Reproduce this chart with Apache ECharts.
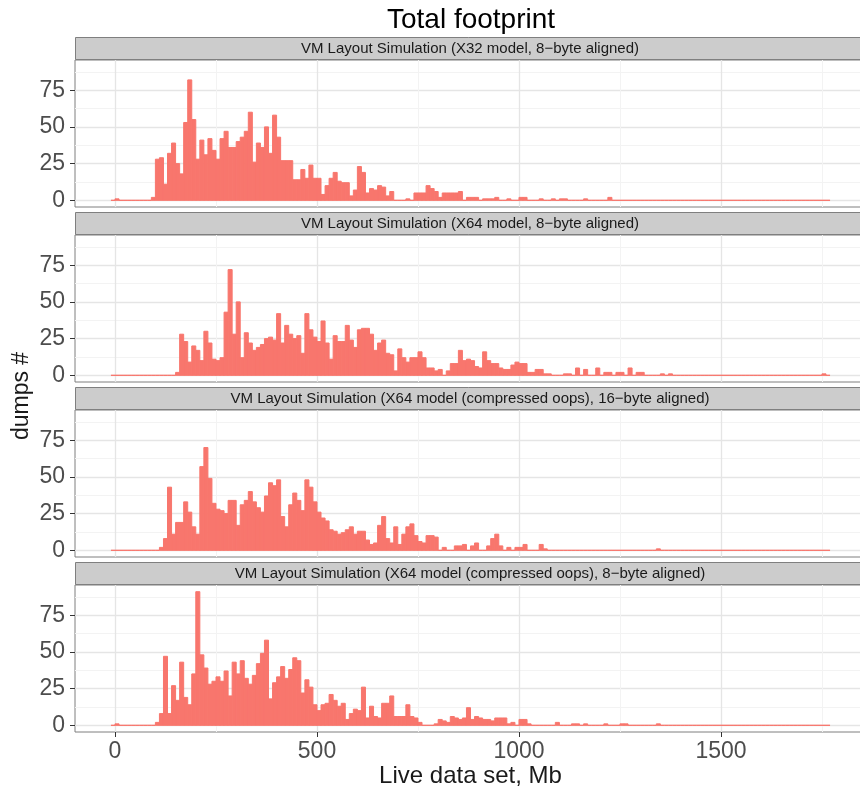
<!DOCTYPE html>
<html>
<head>
<meta charset="utf-8">
<title>Total footprint</title>
<script src="https://cdn.jsdelivr.net/npm/echarts@6/dist/echarts.min.js"></script>
<style>
  html, body { margin: 0; padding: 0; background: #fff; }
  #chart { width: 860px; height: 790px; }
</style>
</head>
<body>
<div id="chart"></div>
<script>
// histogram bins are 10 Mb wide, the first one starts at -10
const BIN_WIDTH = 10;
const FIRST_BIN = -10;
const BIN_COUNT = 178;

const facetTitles = [
  'VM Layout Simulation (X32 model, 8\u2212byte aligned)',
  'VM Layout Simulation (X64 model, 8\u2212byte aligned)',
  'VM Layout Simulation (X64 model (compressed oops), 16\u2212byte aligned)',
  'VM Layout Simulation (X64 model (compressed oops), 8\u2212byte aligned)'
];

// counts per bin, first value is the [-10, 0) bin, then one row per 100 Mb
const countsX32 = [0,
  1, 0, 0, 0, 0, 0, 0, 0, 0, 2,
  28, 29, 11, 32, 39, 25, 18, 53, 82, 55,
  28, 41, 31, 42, 34, 28, 42, 47, 36, 36,
  40, 43, 47, 60, 26, 39, 36, 50, 32, 58,
  43, 27, 27, 27, 14, 14, 21, 15, 24, 15,
  15, 4, 10, 15, 19, 13, 12, 12, 3, 7,
  23, 19, 5, 8, 7, 10, 9, 3, 6, 0,
  0, 0, 1, 0, 5, 5, 5, 10, 8, 6,
  2, 5, 5, 5, 5, 6, 0, 2, 2, 2,
  0, 1, 1, 1, 2, 0, 0, 1, 0, 0,
  2, 2, 0, 0, 0, 1, 0, 0, 1, 0,
  1, 1, 0, 0, 0, 0, 1, 0, 0, 0,
  0, 0, 2, 0, 0, 0, 0, 0, 0, 0,
  0, 0, 0, 0, 0, 0, 0, 0, 0, 0,
  0, 0, 0, 0, 0, 0, 0, 0, 0, 0,
  0, 0, 0, 0, 0, 0, 0, 0, 0, 0,
  0, 0, 0, 0, 0, 0, 0, 0, 0, 0,
  0, 0, 0, 0, 0, 0, 0
];

const countsX64 = [0,
  0, 0, 0, 0, 0, 0, 0, 0, 0, 0,
  0, 0, 0, 0, 0, 2, 28, 23, 9, 20,
  17, 10, 30, 22, 11, 10, 12, 43, 72, 28,
  50, 12, 29, 22, 17, 19, 21, 25, 26, 24,
  42, 22, 34, 28, 25, 27, 15, 42, 31, 26,
  23, 37, 22, 11, 27, 23, 23, 34, 24, 19,
  31, 32, 32, 28, 17, 22, 24, 15, 14, 3,
  18, 12, 9, 12, 12, 16, 12, 5, 5, 3,
  4, 0, 3, 8, 8, 17, 10, 11, 10, 6,
  5, 16, 10, 8, 8, 5, 4, 4, 7, 9,
  8, 8, 2, 2, 4, 4, 1, 1, 0, 0,
  0, 1, 1, 0, 5, 0, 4, 0, 0, 5,
  0, 2, 2, 0, 2, 2, 0, 5, 0, 2,
  2, 0, 0, 0, 0, 1, 0, 1, 0, 0,
  0, 0, 0, 0, 0, 0, 0, 0, 0, 0,
  0, 0, 0, 0, 0, 0, 0, 0, 0, 0,
  0, 0, 0, 0, 0, 0, 0, 0, 0, 0,
  0, 0, 0, 0, 0, 1, 0
];

const countsX64Oops16 = [0,
  0, 0, 0, 0, 0, 0, 0, 0, 0, 0,
  0, 2, 8, 43, 11, 19, 19, 33, 26, 16,
  11, 57, 70, 49, 32, 28, 27, 25, 34, 34,
  17, 31, 34, 40, 33, 29, 26, 37, 46, 44,
  48, 23, 16, 31, 39, 34, 27, 48, 43, 33,
  26, 22, 20, 14, 13, 11, 12, 14, 16, 11,
  13, 13, 7, 4, 5, 17, 23, 8, 5, 16,
  4, 11, 16, 18, 10, 6, 5, 10, 10, 9,
  0, 2, 0, 0, 3, 3, 4, 0, 3, 5,
  0, 0, 3, 8, 11, 3, 0, 2, 0, 2,
  2, 4, 0, 0, 0, 4, 1, 0, 0, 0,
  0, 0, 0, 0, 0, 0, 0, 0, 0, 0,
  0, 0, 0, 0, 0, 0, 0, 0, 0, 0,
  0, 0, 0, 0, 1, 0, 0, 0, 0, 0,
  0, 0, 0, 0, 0, 0, 0, 0, 0, 0,
  0, 0, 0, 0, 0, 0, 0, 0, 0, 0,
  0, 0, 0, 0, 0, 0, 0, 0, 0, 0,
  0, 0, 0, 0, 0, 0, 0
];

const countsX64Oops8 = [0,
  1, 0, 0, 0, 0, 0, 0, 0, 0, 0,
  2, 8, 47, 8, 27, 17, 43, 19, 14, 35,
  91, 48, 39, 28, 30, 33, 30, 37, 20, 43,
  35, 44, 32, 28, 34, 42, 49, 58, 18, 29,
  33, 40, 32, 38, 46, 44, 22, 31, 26, 14,
  10, 14, 15, 21, 17, 13, 15, 4, 8, 11,
  10, 26, 5, 13, 6, 5, 15, 15, 20, 6,
  6, 6, 14, 6, 5, 2, 0, 0, 0, 1,
  4, 3, 2, 6, 5, 4, 5, 12, 4, 6,
  5, 4, 4, 3, 5, 5, 5, 1, 2, 0,
  4, 4, 1, 0, 0, 0, 0, 0, 0, 2,
  0, 0, 0, 1, 1, 0, 1, 0, 0, 0,
  0, 1, 0, 0, 0, 1, 1, 0, 0, 0,
  0, 0, 0, 0, 1, 0, 0, 0, 0, 0,
  0, 0, 0, 0, 0, 0, 0, 0, 0, 0,
  0, 0, 0, 0, 0, 0, 0, 0, 0, 0,
  0, 0, 0, 0, 0, 0, 0, 0, 0, 0,
  0, 0, 0, 0, 0, 0, 0
];

const facetCounts = [countsX32, countsX64, countsX64Oops16, countsX64Oops8];

const xMajorTicks = [0, 500, 1000, 1500];
const xMinorTicks = [250, 750, 1250, 1750];
const yMajorTicks = [0, 25, 50, 75];
const yMinorTicks = [12.5, 37.5, 62.5, 87.5];

const X_RANGE = [-99, 1859];
const Y_RANGE = [-4.55, 95.55];

const FONT = '"Liberation Sans", Arial, Helvetica, sans-serif';
const BAR_COLOR = '#F8766D';
const PLOT_LEFT = 75;
const PLOT_TOP = 60;
const PLOT_HEIGHT = 147;
const FACET_STEP = 175;
const STRIP_HEIGHT = 23;

const binStarts = [];
for (let i = 0; i < BIN_COUNT; i++) binStarts.push(FIRST_BIN + i * BIN_WIDTH);

function renderBin(params, api) {
  const start = api.value(0);
  const count = api.value(1);
  const p0 = api.coord([start, 0]);
  const p1 = api.coord([start + BIN_WIDTH, count]);
  return {
    type: 'rect',
    shape: { x: p0[0], y: p1[1], width: p1[0] - p0[0], height: p0[1] - p1[1] },
    style: { fill: BAR_COLOR, stroke: BAR_COLOR, lineWidth: 1 }
  };
}

const plainNumber = v => String(v);

const grids = [];
const xAxes = [];
const yAxes = [];
const series = [];
const graphics = [];

facetCounts.forEach((counts, i) => {
  const top = PLOT_TOP + i * FACET_STEP;
  const isBottom = i === facetCounts.length - 1;
  grids.push({
    left: PLOT_LEFT, right: -6, top: top, height: PLOT_HEIGHT,
    show: true, backgroundColor: '#fff', borderColor: '#7F7F7F', borderWidth: 1,
    outerBoundsMode: 'none'
  });

  xAxes[i] = {
    type: 'value', gridIndex: i, position: 'bottom', min: X_RANGE[0], max: X_RANGE[1],
    axisLine: { show: false, onZero: false },
    axisTick: { show: isBottom, customValues: xMajorTicks, length: 5, lineStyle: { color: '#333' } },
    axisLabel: {
      show: isBottom, customValues: xMajorTicks, formatter: plainNumber,
      fontSize: 23, color: '#4D4D4D', fontFamily: FONT, margin: 8
    },
    splitLine: { show: true, lineStyle: { color: '#E5E5E5', width: 1.3 } },
    name: isBottom ? 'Live data set, Mb' : '',
    nameLocation: 'middle', nameGap: 32,
    nameTextStyle: { fontSize: 24, color: '#1A1A1A', fontFamily: FONT }
  };
  // minor grid lines sit on a second, invisible axis
  xAxes[i + 4] = {
    type: 'value', gridIndex: i, position: 'top', min: X_RANGE[0], max: X_RANGE[1],
    axisLine: { show: false, onZero: false },
    axisTick: { show: false, customValues: xMinorTicks },
    axisLabel: { show: false, customValues: xMinorTicks },
    splitLine: { show: true, lineStyle: { color: '#F3F3F3', width: 1 } }
  };

  yAxes[i] = {
    type: 'value', gridIndex: i, position: 'left', min: Y_RANGE[0], max: Y_RANGE[1],
    axisLine: { show: false, onZero: false },
    axisTick: { show: true, customValues: yMajorTicks, length: 5, lineStyle: { color: '#333' } },
    axisLabel: {
      customValues: yMajorTicks, formatter: plainNumber,
      fontSize: 23, color: '#4D4D4D', fontFamily: FONT, margin: 10
    },
    splitLine: { show: true, lineStyle: { color: '#E5E5E5', width: 1.3 } }
  };
  yAxes[i + 4] = {
    type: 'value', gridIndex: i, position: 'right', min: Y_RANGE[0], max: Y_RANGE[1],
    axisLine: { show: false, onZero: false },
    axisTick: { show: false, customValues: yMinorTicks },
    axisLabel: { show: false, customValues: yMinorTicks },
    splitLine: { show: true, lineStyle: { color: '#F3F3F3', width: 1 } }
  };

  series.push({
    type: 'custom',
    xAxisIndex: i,
    yAxisIndex: i,
    clip: true,
    renderItem: renderBin,
    encode: { x: 0, y: 1 },
    data: binStarts.map((b, j) => [b, counts[j]])
  });

  // facet strip
  const stripTop = top - STRIP_HEIGHT;
  graphics.push({
    type: 'rect',
    shape: { x: PLOT_LEFT + 0.5, y: stripTop + 0.5, width: 820, height: STRIP_HEIGHT - 1 },
    style: { fill: '#CCCCCC', stroke: '#7F7F7F', lineWidth: 1 }
  });
  graphics.push({
    type: 'text',
    x: 470, y: stripTop + STRIP_HEIGHT / 2,
    style: {
      text: facetTitles[i], fontSize: 15, fontFamily: FONT, fill: '#1A1A1A',
      align: 'center', verticalAlign: 'middle'
    }
  });
});

graphics.push({
  type: 'text',
  x: 22, y: 396, rotation: Math.PI / 2,
  style: {
    text: 'dumps #', fontSize: 23, fontFamily: FONT, fill: '#1A1A1A',
    align: 'center', verticalAlign: 'middle'
  }
});

const chart = echarts.init(document.getElementById('chart'), null, { renderer: 'canvas' });
chart.setOption({
  animation: false,
  backgroundColor: '#fff',
  title: {
    text: 'Total footprint',
    left: 466, top: 1, textAlign: 'center',
    textStyle: { fontSize: 28, fontWeight: 'normal', color: '#000', fontFamily: FONT }
  },
  grid: grids,
  xAxis: xAxes,
  yAxis: yAxes,
  series: series,
  graphic: graphics
});
</script>
</body>
</html>
